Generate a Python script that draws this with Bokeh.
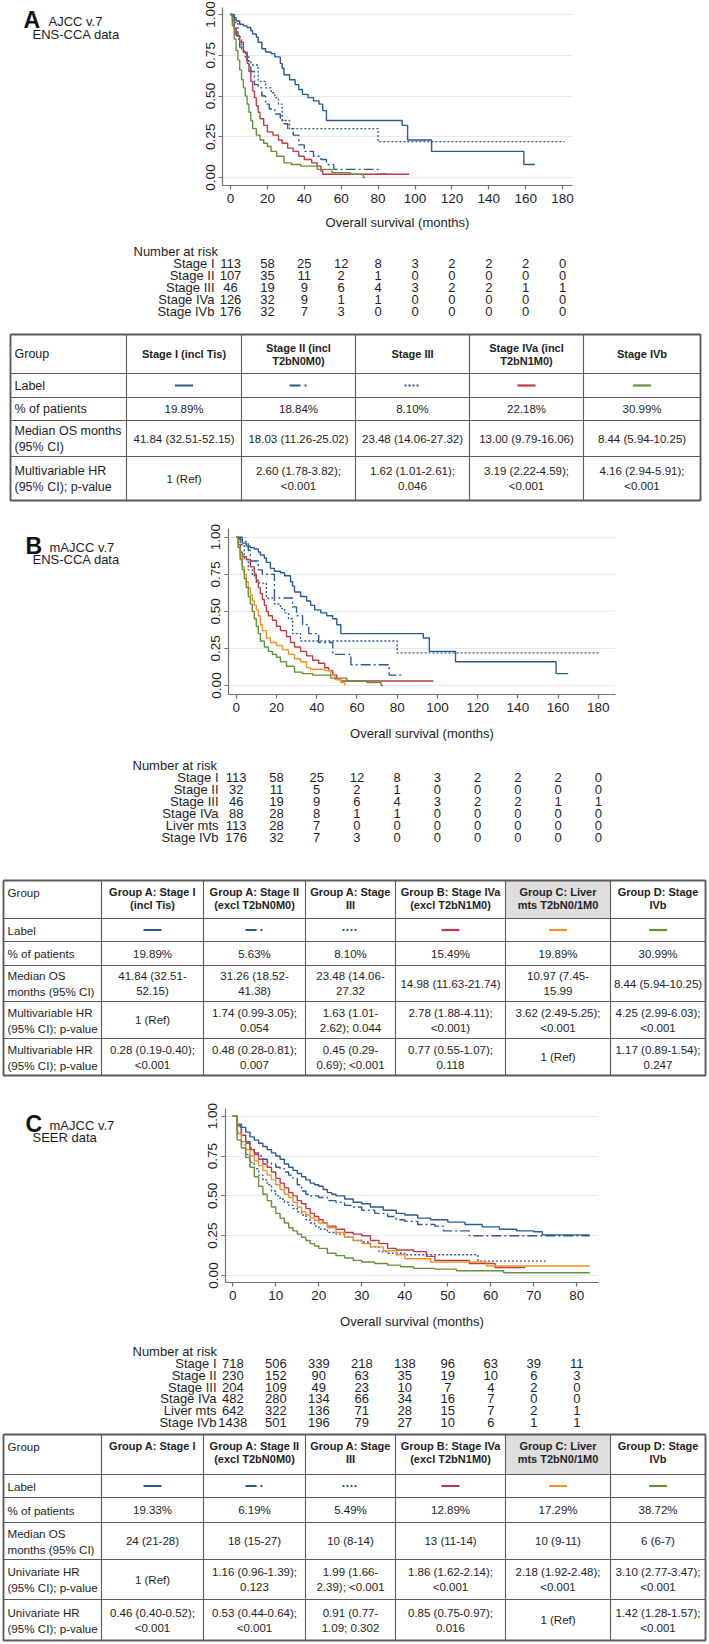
from bokeh.plotting import figure
from bokeh.layouts import column, row
from bokeh.models import Range1d, NumeralTickFormatter, FixedTicker
from bokeh.core.properties import value
from bokeh.embed import file_html
from bokeh.resources import INLINE

FONT = "Liberation Sans"
TXT = "#1e1e1e"
BLUE = "#2b5a92"
RED = "#bb3b46"
ORANGE = "#f3922a"
GREEN = "#64923b"
AXC = "#707070"
GRIDC = "#e3ecef"
LINEC = "#5a5a5a"
GRAYCELL = "#dedede"
W = 708
HW = 170

SOLID = "solid"
DASHDOT = "10 3 2 3"
DOT = "2 2"

SURV_TICKS = [0, 0.25, 0.5, 0.75, 1.0]

# ---------------- Panel A: AJCC v.7, ENS-CCA data ----------------
a_time_ticks = [0, 20, 40, 60, 80, 100, 120, 140, 160, 180]
a_s1_t = [0, 1, 2, 3, 5, 7, 9, 11, 12, 14, 15, 17, 19, 22, 24, 27, 28, 29, 32, 35, 37, 39, 42, 45, 48, 50, 52, 93, 96, 109, 159]
a_s1_s = [1.00, 0.99, 0.98, 0.96, 0.94, 0.93, 0.92, 0.90, 0.88, 0.86, 0.83, 0.79, 0.77, 0.76, 0.74, 0.70, 0.67, 0.63, 0.60, 0.57, 0.54, 0.51, 0.49, 0.47, 0.45, 0.41, 0.35, 0.32, 0.23, 0.16, 0.08]
a_s1_end = 165
a_s2_t = [0, 2, 3, 5, 7, 9, 11, 13, 15, 17, 19, 21, 24, 27, 29, 31, 34, 37, 40, 45, 49, 52, 56, 80]
a_s2_s = [1.00, 0.92, 0.88, 0.80, 0.76, 0.72, 0.65, 0.57, 0.55, 0.50, 0.45, 0.42, 0.39, 0.35, 0.33, 0.30, 0.26, 0.20, 0.16, 0.13, 0.11, 0.08, 0.05, 0.02]
a_s2_end = 87
a_s3_t = [0, 2, 4, 6, 8, 10, 15, 19, 22, 24, 26, 28, 32, 80]
a_s3_s = [1.00, 0.95, 0.85, 0.78, 0.74, 0.69, 0.59, 0.55, 0.52, 0.49, 0.45, 0.35, 0.30, 0.22]
a_s3_end = 181
a_s4a_t = [0, 1, 2, 3, 5, 7, 9, 10, 11, 12, 13, 14, 15, 16, 18, 20, 23, 26, 28, 31, 34, 37, 40, 44, 47, 49, 50]
a_s4a_s = [1.00, 0.96, 0.91, 0.87, 0.83, 0.77, 0.70, 0.65, 0.59, 0.53, 0.49, 0.44, 0.40, 0.36, 0.32, 0.28, 0.26, 0.23, 0.21, 0.18, 0.16, 0.13, 0.11, 0.09, 0.07, 0.04, 0.02]
a_s4a_end = 97
a_s4b_t = [0, 1, 2, 3, 4, 5, 6, 7, 8, 9, 10, 11, 12, 14, 16, 18, 20, 22, 25, 29, 33, 38, 47, 55, 65, 72]
a_s4b_s = [1.00, 0.93, 0.85, 0.78, 0.72, 0.66, 0.60, 0.55, 0.50, 0.45, 0.40, 0.35, 0.30, 0.26, 0.23, 0.21, 0.19, 0.16, 0.13, 0.09, 0.08, 0.07, 0.05, 0.03, 0.02, 0.00]
a_s4b_end = 73

a_risk_names = ["Stage I", "Stage II", "Stage III", "Stage IVa", "Stage IVb"]
a_risk_s1 = [113, 58, 25, 12, 8, 3, 2, 2, 2, 0]
a_risk_s2 = [107, 35, 11, 2, 1, 0, 0, 0, 0, 0]
a_risk_s3 = [46, 19, 9, 6, 4, 3, 2, 2, 1, 1]
a_risk_s4a = [126, 32, 9, 1, 1, 0, 0, 0, 0, 0]
a_risk_s4b = [176, 32, 7, 3, 0, 0, 0, 0, 0, 0]

a_tbl_header = ["Stage I (incl Tis)", "Stage II (incl\nT2bN0M0)", "Stage III", "Stage IVa (incl\nT2bN1M0)", "Stage IVb"]
a_tbl_rowlabels = ["Label", "% of patients", "Median OS months\n(95% CI)", "Multivariable HR\n(95% CI); p-value"]
a_tbl_pct = ["19.89%", "18.84%", "8.10%", "22.18%", "30.99%"]
a_tbl_median = ["41.84 (32.51-52.15)", "18.03 (11.26-25.02)", "23.48 (14.06-27.32)", "13.00 (9.79-16.06)", "8.44 (5.94-10.25)"]
a_tbl_hr = ["1 (Ref)", "2.60 (1.78-3.82);\n<0.001", "1.62 (1.01-2.61);\n0.046", "3.19 (2.22-4.59);\n<0.001", "4.16 (2.94-5.91);\n<0.001"]

# ---------------- Panel B: mAJCC v.7, ENS-CCA data ----------------
b_s2_t = [0, 3, 6, 7, 11, 13, 19, 28, 30, 33, 36, 41, 48, 57, 76]
b_s2_s = [1.00, 0.97, 0.91, 0.84, 0.78, 0.75, 0.59, 0.53, 0.47, 0.41, 0.35, 0.29, 0.21, 0.14, 0.07]
b_s2_end = 83
b_s4a_t = [0, 1, 2, 3, 5, 7, 9, 10, 11, 12, 13, 14, 15, 16, 18, 20, 22, 25, 27, 29, 32, 35, 38, 41, 44, 46, 48, 50, 52]
b_s4a_s = [1.00, 0.95, 0.90, 0.87, 0.85, 0.80, 0.75, 0.71, 0.66, 0.62, 0.58, 0.54, 0.50, 0.47, 0.44, 0.40, 0.37, 0.33, 0.29, 0.26, 0.23, 0.20, 0.17, 0.15, 0.12, 0.10, 0.07, 0.04, 0.03]
b_s4a_end = 98
b_liver_t = [0, 1, 2, 3, 4, 5, 6, 7, 8, 9, 10, 11, 12, 13, 15, 17, 20, 23, 26, 29, 32, 35, 37, 44, 47, 49, 52, 54]
b_liver_s = [1.00, 0.93, 0.86, 0.80, 0.75, 0.70, 0.66, 0.61, 0.57, 0.54, 0.51, 0.47, 0.41, 0.37, 0.32, 0.29, 0.27, 0.24, 0.21, 0.18, 0.16, 0.12, 0.11, 0.10, 0.07, 0.04, 0.02, 0.00]
b_liver_end = 54

b_risk_names = ["Stage I", "Stage II", "Stage III", "Stage IVa", "Liver mts", "Stage IVb"]
b_risk_s1 = [113, 58, 25, 12, 8, 3, 2, 2, 2, 0]
b_risk_s2 = [32, 11, 5, 2, 1, 0, 0, 0, 0, 0]
b_risk_s3 = [46, 19, 9, 6, 4, 3, 2, 2, 1, 1]
b_risk_s4a = [88, 28, 8, 1, 1, 0, 0, 0, 0, 0]
b_risk_liver = [113, 28, 7, 0, 0, 0, 0, 0, 0, 0]
b_risk_s4b = [176, 32, 7, 3, 0, 0, 0, 0, 0, 0]

b_tbl_header = ["Group A: Stage I\n(incl Tis)", "Group A: Stage II\n(excl T2bN0M0)", "Group A: Stage\nIII",
                "Group B: Stage IVa\n(excl T2bN1M0)", "Group C: Liver\nmts T2bN0/1M0", "Group D: Stage\nIVb"]
b_tbl_rowlabels = ["Label", "% of patients", "Median OS\nmonths (95% CI)", "Multivariable HR\n(95% CI); p-value",
                   "Multivariable HR\n(95% CI); p-value"]
b_tbl_pct = ["19.89%", "5.63%", "8.10%", "15.49%", "19.89%", "30.99%"]
b_tbl_median = ["41.84 (32.51-\n52.15)", "31.26 (18.52-\n41.38)", "23.48 (14.06-\n27.32", "14.98 (11.63-21.74)",
                "10.97 (7.45-\n15.99", "8.44 (5.94-10.25)"]
b_tbl_hr1 = ["1 (Ref)", "1.74 (0.99-3.05);\n0.054", "1.63 (1.01-\n2.62); 0.044", "2.78 (1.88-4.11);\n<0.001)",
             "3.62 (2.49-5.25);\n<0.001", "4.25 (2.99-6.03);\n<0.001"]
b_tbl_hr2 = ["0.28 (0.19-0.40);\n<0.001", "0.48 (0.28-0.81);\n0.007", "0.45 (0.29-\n0.69); <0.001",
             "0.77 (0.55-1.07);\n0.118", "1 (Ref)", "1.17 (0.89-1.54);\n0.247"]

# ---------------- Panel C: mAJCC v.7, SEER data ----------------
c_time_ticks = [0, 10, 20, 30, 40, 50, 60, 70, 80]
c_s1_t = [0, 1, 2, 3, 4, 5, 6, 7, 8, 9, 10, 11, 12, 13, 14, 15, 16, 17, 18, 19, 20, 21, 22, 23, 24,
          26, 28, 30, 32, 35, 38, 40, 43, 46, 50, 54, 58, 62, 66, 70, 72]
c_s1_s = [1.0, 0.95, 0.93, 0.90, 0.87, 0.85, 0.83, 0.81, 0.79, 0.77, 0.75, 0.73, 0.70, 0.68, 0.66, 0.64, 0.62,
          0.60, 0.58, 0.57, 0.56, 0.54, 0.52, 0.51, 0.50, 0.48, 0.46, 0.45, 0.43, 0.41, 0.39, 0.38, 0.36, 0.35,
          0.335, 0.32, 0.305, 0.29, 0.28, 0.275, 0.255]
c_s1_end = 83
c_s2_t = [0, 1, 2, 3, 4, 5, 6, 7, 8, 9, 10, 11, 12, 13, 14, 15, 16, 17, 18, 20, 22, 24, 26, 28, 30, 33, 36,
          38, 40, 43, 47, 49, 55]
c_s2_s = [1.0, 0.93, 0.88, 0.84, 0.80, 0.77, 0.75, 0.73, 0.71, 0.70, 0.68, 0.67, 0.65, 0.63, 0.61, 0.57, 0.53,
          0.51, 0.50, 0.49, 0.47, 0.46, 0.44, 0.43, 0.41, 0.39, 0.37, 0.35, 0.34, 0.32, 0.31, 0.28, 0.25]
c_s2_end = 83
c_s3_t = [0, 1, 2, 3, 4, 5, 6, 7, 8, 9, 10, 11, 12, 13, 14, 15, 16, 17, 18, 19, 20, 22, 24, 26, 28, 30, 32,
          34, 36, 40, 57]
c_s3_s = [1.0, 0.90, 0.82, 0.76, 0.71, 0.67, 0.63, 0.60, 0.57, 0.53, 0.50, 0.48, 0.46, 0.44, 0.42, 0.40, 0.38,
          0.35, 0.33, 0.31, 0.29, 0.27, 0.26, 0.24, 0.22, 0.21, 0.18, 0.15, 0.14, 0.13, 0.09]
c_s3_end = 73
c_s4a_t = [0, 1, 2, 3, 4, 5, 6, 7, 8, 9, 10, 11, 12, 13, 14, 15, 16, 17, 18, 19, 20, 21, 22, 24, 26, 28, 30,
           32, 34, 36, 38, 42, 45, 47, 55, 61]
c_s4a_s = [1.0, 0.94, 0.88, 0.83, 0.79, 0.76, 0.73, 0.70, 0.68, 0.65, 0.61, 0.58, 0.55, 0.52, 0.50, 0.47, 0.45,
           0.42, 0.39, 0.37, 0.35, 0.33, 0.31, 0.29, 0.27, 0.26, 0.25, 0.22, 0.20, 0.17, 0.16, 0.15, 0.12, 0.095,
           0.075, 0.05]
c_s4a_end = 68
c_liver_t = [0, 1, 2, 3, 4, 5, 6, 7, 8, 9, 10, 11, 12, 13, 14, 15, 16, 17, 18, 19, 20, 22, 24, 26, 28, 30, 32,
             35, 38, 40, 46, 59]
c_liver_s = [1.0, 0.89, 0.84, 0.79, 0.75, 0.72, 0.69, 0.66, 0.63, 0.60, 0.57, 0.54, 0.51, 0.49, 0.46, 0.43,
             0.40, 0.38, 0.36, 0.345, 0.33, 0.30, 0.27, 0.24, 0.22, 0.20, 0.18, 0.155, 0.13, 0.105, 0.085, 0.06]
c_liver_end = 83
c_s4b_t = [0, 1, 2, 3, 4, 5, 6, 7, 8, 9, 10, 11, 12, 13, 14, 15, 16, 17, 18, 19, 20, 22, 24, 26, 28, 30, 33,
           36, 39, 42, 47, 52, 63]
c_s4b_s = [1.0, 0.85, 0.80, 0.74, 0.68, 0.62, 0.56, 0.51, 0.47, 0.43, 0.39, 0.36, 0.33, 0.30, 0.28, 0.26, 0.24,
           0.22, 0.20, 0.185, 0.17, 0.14, 0.125, 0.11, 0.095, 0.085, 0.075, 0.065, 0.055, 0.045, 0.04, 0.03, 0.017]
c_s4b_end = 83

c_risk_names = ["Stage I", "Stage II", "Stage III", "Stage IVa", "Liver mts", "Stage IVb"]
c_risk_s1 = [718, 506, 339, 218, 138, 96, 63, 39, 11]
c_risk_s2 = [230, 152, 90, 63, 35, 19, 10, 6, 3]
c_risk_s3 = [204, 109, 49, 23, 10, 7, 4, 2, 0]
c_risk_s4a = [482, 280, 134, 66, 34, 16, 7, 0, 0]
c_risk_liver = [642, 322, 136, 71, 28, 15, 7, 2, 1]
c_risk_s4b = [1438, 501, 196, 79, 27, 10, 6, 1, 1]

c_tbl_header = ["Group A: Stage I", "Group A: Stage II\n(excl T2bN0M0)", "Group A: Stage\nIII",
                "Group B: Stage IVa\n(excl T2bN1M0)", "Group C: Liver\nmts T2bN0/1M0", "Group D: Stage\nIVb"]
c_tbl_rowlabels = ["Label", "% of patients", "Median OS\nmonths (95% CI)", "Univariate HR\n(95% CI); p-value",
                   "Univariate HR\n(95% CI); p-value"]
c_tbl_pct = ["19.33%", "6.19%", "5.49%", "12.89%", "17.29%", "38.72%"]
c_tbl_median = ["24 (21-28)", "18 (15-27)", "10 (8-14)", "13 (11-14)", "10 (9-11)", "6 (6-7)"]
c_tbl_hr1 = ["1 (Ref)", "1.16 (0.96-1.39);\n0.123", "1.99 (1.66-\n2.39); <0.001", "1.86 (1.62-2.14);\n<0.001",
             "2.18 (1.92-2.48);\n<0.001", "3.10 (2.77-3.47);\n<0.001"]
c_tbl_hr2 = ["0.46 (0.40-0.52);\n<0.001", "0.53 (0.44-0.64);\n<0.001", "0.91 (0.77-\n1.09; 0.302",
             "0.85 (0.75-0.97);\n0.016", "1 (Ref)", "1.42 (1.28-1.57);\n<0.001"]


def txt(p, xs, ys, ts, size, align="left", baseline="middle", style="normal", x_range_name=None, color=TXT):
    kw = dict(x=xs, y=ys, text=ts, text_font=value(FONT), text_font_size=size, text_align=align,
              text_baseline=baseline, text_font_style=style, text_color=color)
    if x_range_name:
        kw["x_range_name"] = x_range_name
    p.text(**kw)


def plain_fig(width, top, h, xleft=0):
    p = figure(width=width, height=h, x_range=Range1d(xleft, xleft + width), y_range=Range1d(top + h, top),
               output_backend="svg", toolbar_location=None, min_border=0,
               x_axis_location=None, y_axis_location=None)
    p.min_border_left = 0
    p.min_border_right = 0
    p.min_border_top = 0
    p.min_border_bottom = 0
    p.grid.visible = False
    p.outline_line_color = None
    return p


def km_block(top, h, fl, fr, ft, fb, x0, ppm, y1, y0, ticks, curves, title_standoff, header):
    kw = W - HW
    kx = HW
    mbt = ft - top
    fh = fb - ft
    mbb = h - mbt - fh
    mbl = fl - kx
    fw = fr - fl
    mbr = kw - mbl - fw
    ppu = y0 - y1
    p = figure(width=kw, height=h,
               x_range=Range1d((fl - x0) / ppm, (fr - x0) / ppm),
               y_range=Range1d(-(fb - y0) / ppu, 1 + (y1 - ft) / ppu),
               min_border_left=mbl, min_border_right=mbr, min_border_top=mbt, min_border_bottom=mbb,
               output_backend="svg", toolbar_location=None)
    p.outline_line_color = None
    p.xgrid.visible = False
    p.ygrid.ticker = FixedTicker(ticks=SURV_TICKS)
    p.ygrid.grid_line_color = GRIDC
    p.ygrid.grid_line_width = 1.2
    p.xaxis.ticker = FixedTicker(ticks=ticks)
    p.yaxis.ticker = FixedTicker(ticks=SURV_TICKS)
    p.yaxis.formatter = NumeralTickFormatter(format="0.00")
    p.yaxis.major_label_orientation = "vertical"
    for ax in (p.xaxis[0], p.yaxis[0]):
        ax.axis_line_color = AXC
        ax.axis_line_width = 1.2
        ax.major_tick_line_color = AXC
        ax.major_tick_line_width = 1.2
        ax.major_tick_out = 4
        ax.major_tick_in = 0
        ax.minor_tick_line_color = None
        ax.major_label_text_font = FONT
        ax.major_label_text_font_size = "13.5px"
        ax.major_label_text_color = TXT
        ax.major_label_standoff = 4
    p.xaxis.axis_label = "Overall survival (months)"
    p.xaxis.axis_label_text_font = FONT
    p.xaxis.axis_label_text_font_size = "13px"
    p.xaxis.axis_label_text_font_style = "normal"
    p.xaxis.axis_label_text_color = TXT
    p.xaxis.axis_label_standoff = title_standoff
    for t, s, end, color, dash in curves:
        xs = list(t) + [end]
        ys = list(s) + [s[-1]]
        p.step(xs, ys, mode="after", line_color=color, line_width=1.4, line_dash=dash)

    hp = plain_fig(HW, top, h)
    letter, lx, ly, l1, l1x, l1y, l2, l2x, l2y = header
    txt(hp, [lx], [ly], [letter], "23px", style="bold", color="#111111")
    txt(hp, [l1x], [l1y], [l1], "13px")
    txt(hp, [l2x], [l2y], [l2], "13px")
    return row(hp, p)


def put_lines(acc, x, yc, s, ls):
    parts = s.split("\n")
    n = len(parts)
    for i, part in enumerate(parts):
        acc[0].append(x)
        acc[1].append(yc + (i - (n - 1) / 2) * ls)
        acc[2].append(part)


def lower_block(top, h, x0, ppm, times, risk_title, risk_label_right, row_y0, pitch, names, risks,
                cols, rows, header, header_top, gray, rowlabels, cells, samples, lab_fs):
    p = plain_fig(W, top, h)
    p.extra_x_ranges = {"months": Range1d((0 - x0) / ppm, (W - x0) / ppm)}
    # number at risk
    txt(p, [risk_title[0]], [risk_title[1]], ["Number at risk"], "13px")
    for i, (name, vals) in enumerate(zip(names, risks)):
        y = row_y0 + i * pitch
        txt(p, [risk_label_right], [y], [name], "13px", align="right")
        txt(p, list(times), [y] * len(times), [str(v) for v in vals], "13px", align="center",
            x_range_name="months")
    # table
    if gray is not None:
        p.quad(left=[cols[gray + 1]], right=[cols[gray + 2]], top=[rows[0]], bottom=[rows[1]],
               fill_color=GRAYCELL, line_color=None)
    p.segment(x0=[cols[0]] * len(rows), y0=rows, x1=[cols[-1]] * len(rows), y1=rows,
              line_color=LINEC, line_width=1.1)
    p.segment(x0=cols, y0=[rows[0]] * len(cols), x1=cols, y1=[rows[-1]] * len(cols),
              line_color=LINEC, line_width=1.1)
    p.multi_line(xs=[[cols[0], cols[-1], cols[-1], cols[0], cols[0]]],
                 ys=[[rows[0], rows[0], rows[-1], rows[-1], rows[0]]], line_color=LINEC, line_width=1.8)
    # header
    hdr = ([], [], [])
    grp = ([], [], [])
    if header_top:
        put_lines(grp, cols[0] + 4, rows[0] + 11.5, "Group", 13)
    else:
        put_lines(grp, cols[0] + 4, (rows[0] + rows[1]) / 2, "Group", 13)
    for j, hs in enumerate(header):
        cx = (cols[j + 1] + cols[j + 2]) / 2
        if header_top:
            n = len(hs.split("\n"))
            put_lines(hdr, cx, rows[0] + 11.5 + (n - 1) * 6.5, hs, 13)
        else:
            put_lines(hdr, cx, (rows[0] + rows[1]) / 2, hs, 13)
    txt(p, grp[0], grp[1], grp[2], lab_fs)
    txt(p, hdr[0], hdr[1], hdr[2], "11px", align="center", style="bold")
    # row labels
    rl = ([], [], [])
    for i, lab in enumerate(rowlabels):
        put_lines(rl, cols[0] + 4, (rows[i + 1] + rows[i + 2]) / 2, lab, 16)
    txt(p, rl[0], rl[1], rl[2], lab_fs)
    # label samples
    ys = (rows[1] + rows[2]) / 2
    for j, (color, dash) in enumerate(samples):
        cx = (cols[j + 1] + cols[j + 2]) / 2
        half = 8 if dash == DOT else 9
        p.segment(x0=[cx - half], y0=[ys], x1=[cx + half], y1=[ys], line_color=color, line_width=2.2,
                  line_dash=("11 4 2 20" if dash == DASHDOT else dash))
    # values
    va = ([], [], [])
    for i, rowvals in enumerate(cells):
        yc = (rows[i + 2] + rows[i + 3]) / 2
        for j, v in enumerate(rowvals):
            cx = (cols[j + 1] + cols[j + 2]) / 2
            put_lines(va, cx, yc, v, 15)
    txt(p, va[0], va[1], va[2], "11.5px", align="center")
    return p


a_curves = [(a_s1_t, a_s1_s, a_s1_end, BLUE, SOLID), (a_s2_t, a_s2_s, a_s2_end, BLUE, DASHDOT),
            (a_s3_t, a_s3_s, a_s3_end, BLUE, DOT), (a_s4a_t, a_s4a_s, a_s4a_end, RED, SOLID),
            (a_s4b_t, a_s4b_s, a_s4b_end, GREEN, SOLID)]
b_curves = [(a_s1_t, a_s1_s, a_s1_end, BLUE, SOLID), (b_s2_t, b_s2_s, b_s2_end, BLUE, DASHDOT),
            (a_s3_t, a_s3_s, a_s3_end, BLUE, DOT), (b_s4a_t, b_s4a_s, b_s4a_end, RED, SOLID),
            (b_liver_t, b_liver_s, b_liver_end, ORANGE, SOLID), (a_s4b_t, a_s4b_s, a_s4b_end, GREEN, SOLID)]
c_curves = [(c_s1_t, c_s1_s, c_s1_end, BLUE, SOLID), (c_s2_t, c_s2_s, c_s2_end, BLUE, DASHDOT),
            (c_s3_t, c_s3_s, c_s3_end, BLUE, DOT), (c_s4a_t, c_s4a_s, c_s4a_end, RED, SOLID),
            (c_liver_t, c_liver_s, c_liver_end, ORANGE, SOLID), (c_s4b_t, c_s4b_s, c_s4b_end, GREEN, SOLID)]

samples5 = [(BLUE, SOLID), (BLUE, DASHDOT), (BLUE, DOT), (RED, SOLID), (GREEN, SOLID)]
samples6 = [(BLUE, SOLID), (BLUE, DASHDOT), (BLUE, DOT), (RED, SOLID), (ORANGE, SOLID), (GREEN, SOLID)]

kmA = km_block(0, 244, 222, 572, 7, 185, 230, 1.845, 14, 177, a_time_ticks, a_curves, 9,
               ("A", 23, 17, "AJCC v.7", 48, 19, "ENS-CCA data", 32, 37))
lowA = lower_block(244, 274, 230, 1.845, a_time_ticks, (133, 251), 214, 263, 12, a_risk_names,
                   [a_risk_s1, a_risk_s2, a_risk_s3, a_risk_s4a, a_risk_s4b],
                   [10, 126, 241, 355, 469, 583, 700], [334, 373, 397, 420, 456, 500],
                   a_tbl_header, False, None, a_tbl_rowlabels, [a_tbl_pct, a_tbl_median, a_tbl_hr],
                   samples5, "12.5px")
kmB = km_block(518, 232, 228, 615, 528, 694, 235.7, 2.012, 536.7, 685, a_time_ticks, b_curves, 11,
               ("B", 25, 543, "mAJCC v.7", 49, 545, "ENS-CCA data", 32, 562))
lowB = lower_block(750, 348, 235.7, 2.012, a_time_ticks, (132, 765), 218, 777, 12, b_risk_names,
                   [b_risk_s1, b_risk_s2, b_risk_s3, b_risk_s4a, b_risk_liver, b_risk_s4b],
                   [3, 101, 203, 305, 395, 505, 610, 705], [880, 918, 941, 965, 1001, 1038, 1075],
                   b_tbl_header, True, 4, b_tbl_rowlabels,
                   [b_tbl_pct, b_tbl_median, b_tbl_hr1, b_tbl_hr2], samples6, "11.6px")
kmC = km_block(1098, 240, 225, 598, 1108, 1282, 232.3, 4.3, 1115.7, 1275, c_time_ticks, c_curves, 11,
               ("C", 25, 1120, "mAJCC v.7", 49, 1121, "SEER data", 32, 1138))
lowC = lower_block(1338, 304, 232.3, 4.3, c_time_ticks, (132, 1351), 216, 1363, 11.8, c_risk_names,
                   [c_risk_s1, c_risk_s2, c_risk_s3, c_risk_s4a, c_risk_liver, c_risk_s4b],
                   [3, 101, 203, 305, 395, 505, 610, 705], [1434, 1474, 1497, 1522, 1559, 1599, 1640],
                   c_tbl_header, True, 4, c_tbl_rowlabels,
                   [c_tbl_pct, c_tbl_median, c_tbl_hr1, c_tbl_hr2], samples6, "11.6px")

layout = column(kmA, lowA, kmB, lowB, kmC, lowC)
open("out.html", "w").write(file_html(layout, INLINE))
